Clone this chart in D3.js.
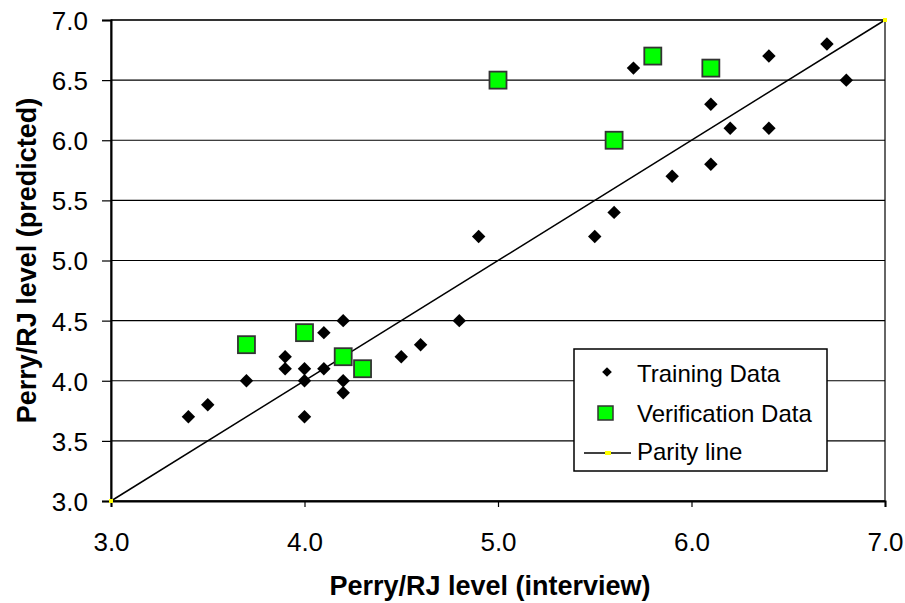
<!DOCTYPE html>
<html>
<head>
<meta charset="utf-8">
<script src="https://cdn.jsdelivr.net/npm/d3@7"></script>
<style>
  body { margin: 0; background: #fff; }
  text { font-family: "Liberation Sans", Arial, sans-serif; }
</style>
</head>
<body>
<svg id="chart"></svg>
<script>
// Données
const trainingX = [3.4, 3.5, 3.7, 3.9, 3.9, 4.0, 4.0, 4.0, 4.1, 4.1, 4.2, 4.2, 4.2, 4.5, 4.6, 4.8, 4.9, 5.5, 5.6, 5.7, 5.9, 6.1, 6.1, 6.2, 6.4, 6.4, 6.7, 6.8];
const trainingY = [3.7, 3.8, 4.0, 4.2, 4.1, 4.1, 4.0, 3.7, 4.4, 4.1, 4.5, 4.0, 3.9, 4.2, 4.3, 4.5, 5.2, 5.2, 5.4, 6.6, 5.7, 6.3, 5.8, 6.1, 6.7, 6.1, 6.8, 6.5];
const verifX = [3.7, 4.0, 4.2, 4.3, 5.0, 5.6, 5.8, 6.1];
const verifY = [4.3, 4.4, 4.2, 4.1, 6.5, 6.0, 6.7, 6.6];
const parityX = [3.0, 7.0];
const parityY = [3.0, 7.0];
const xTicks = [3.0, 4.0, 5.0, 6.0, 7.0];
const yTicks = [3.0, 3.5, 4.0, 4.5, 5.0, 5.5, 6.0, 6.5, 7.0];

const width = 905, height = 603;
const margin = { left: 111, right: 20, top: 20, bottom: 102 };

const svg = d3.select("#chart").attr("width", width).attr("height", height);

const x = d3.scaleLinear().domain([3, 7]).range([margin.left, width - margin.right]);
const y = d3.scaleLinear().domain([3, 7]).range([height - margin.bottom, margin.top]);

// Lignes de grille horizontales
svg.append("g")
  .selectAll("line")
  .data(yTicks)
  .join("line")
  .attr("x1", x(3)).attr("x2", x(7))
  .attr("y1", d => y(d)).attr("y2", d => y(d))
  .attr("stroke", "#000").attr("stroke-width", 1.2);

// Cadre de la zone de tracé
svg.append("rect")
  .attr("x", x(3)).attr("y", y(7))
  .attr("width", x(7) - x(3)).attr("height", y(3) - y(7))
  .attr("fill", "none").attr("stroke", "#000").attr("stroke-width", 1.2);

// Axes
const xAxis = svg.append("g")
  .attr("transform", `translate(0,${y(3)})`)
  .call(d3.axisBottom(x).tickValues(xTicks).tickFormat(d3.format(".1f")).tickSize(6).tickPadding(26));
const yAxis = svg.append("g")
  .attr("transform", `translate(${x(3)},0)`)
  .call(d3.axisLeft(y).tickValues(yTicks).tickFormat(d3.format(".1f")).tickSize(9).tickPadding(14));

[xAxis, yAxis].forEach(a => {
  a.select(".domain").attr("stroke", "#000").attr("stroke-width", 2);
  a.selectAll(".tick line").attr("stroke", "#000").attr("stroke-width", 1.2);
  a.selectAll(".tick text")
    .attr("font-size", 26)
    .attr("fill", "#000")
    .style("font-family", "'Liberation Sans', Arial, sans-serif");
});
yAxis.selectAll(".tick text").attr("dy", "0.36em");

// Ligne de parité
svg.append("line")
  .attr("x1", x(parityX[0])).attr("y1", y(parityY[0]))
  .attr("x2", x(parityX[1])).attr("y2", y(parityY[1]))
  .attr("stroke", "#000").attr("stroke-width", 1.5);
svg.append("g")
  .selectAll("rect")
  .data(d3.range(parityX.length))
  .join("rect")
  .attr("x", i => x(parityX[i]) - 2)
  .attr("y", i => y(parityY[i]) - 2)
  .attr("width", 4).attr("height", 4)
  .attr("fill", "#ffff00");

// Données d'entraînement (losanges)
const diamond = d3.symbol().type(d3.symbolDiamond2).size(115);
svg.append("g")
  .selectAll("path")
  .data(d3.range(trainingX.length))
  .join("path")
  .attr("d", diamond)
  .attr("transform", i => `translate(${x(trainingX[i])},${y(trainingY[i])})`)
  .attr("fill", "#000");

// Données de vérification (carrés verts)
const sq = 17;
svg.append("g")
  .selectAll("rect")
  .data(d3.range(verifX.length))
  .join("rect")
  .attr("x", i => x(verifX[i]) - sq / 2)
  .attr("y", i => y(verifY[i]) - sq / 2)
  .attr("width", sq).attr("height", sq)
  .attr("fill", "#00ff00")
  .attr("stroke", "#333").attr("stroke-width", 1.8);

// Titres des axes
svg.append("text")
  .attr("x", 490)
  .attr("y", 595)
  .attr("text-anchor", "middle")
  .attr("font-size", 27).attr("font-weight", "bold")
  .text("Perry/RJ level (interview)");

svg.append("text")
  .attr("transform", `translate(36,${(y(3) + y(7)) / 2}) rotate(-90)`)
  .attr("text-anchor", "middle")
  .attr("font-size", 27).attr("font-weight", "bold")
  .text("Perry/RJ level (predicted)");

// Légende
const legend = svg.append("g").attr("transform", "translate(574,349)");
legend.append("rect")
  .attr("width", 253).attr("height", 122)
  .attr("fill", "#fff").attr("stroke", "#000").attr("stroke-width", 1.5);

legend.append("path")
  .attr("d", d3.symbol().type(d3.symbolDiamond2).size(60))
  .attr("transform", "translate(33,23)");
legend.append("text").attr("x", 63).attr("y", 33)
  .attr("font-size", 24).text("Training Data");

legend.append("rect")
  .attr("x", 24).attr("y", 57).attr("width", 15).attr("height", 14)
  .attr("fill", "#00ff00").attr("stroke", "#333").attr("stroke-width", 1.5);
legend.append("text").attr("x", 63).attr("y", 73)
  .attr("font-size", 24).text("Verification Data");

legend.append("line")
  .attr("x1", 10).attr("x2", 57).attr("y1", 104).attr("y2", 104)
  .attr("stroke", "#000").attr("stroke-width", 1.5);
legend.append("rect")
  .attr("x", 31).attr("y", 102).attr("width", 6).attr("height", 4)
  .attr("fill", "#ffff00");
legend.append("text").attr("x", 63).attr("y", 111)
  .attr("font-size", 24).text("Parity line");
</script>
</body>
</html>
